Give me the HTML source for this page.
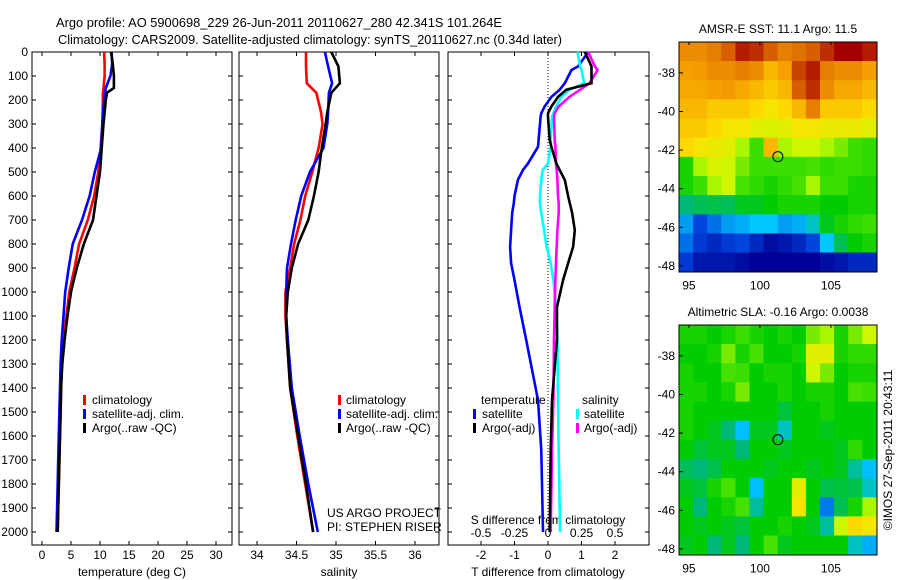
<!DOCTYPE html>
<html><head><meta charset="utf-8"><style>
body{margin:0;background:#fff;}
svg{display:block;font-family:"Liberation Sans",sans-serif;}
</style></head><body>
<svg id="chart" width="900" height="580" viewBox="0 0 900 580" xmlns="http://www.w3.org/2000/svg">
<text x="56" y="27" font-size="13" textLength="446" lengthAdjust="spacingAndGlyphs">Argo profile: AO 5900698_229 26-Jun-2011 20110627_280 42.341S 101.264E</text>
<text x="58" y="44" font-size="13" textLength="504" lengthAdjust="spacingAndGlyphs">Climatology: CARS2009. Satellite-adjusted climatology: synTS_20110627.nc (0.34d later)</text>
<g id="g"></g>
</svg>
<script>
// ---- data ----
const depthT = [0,50,100,150,170,200,300,400,500,600,700,800,900,1000,1100,1200,1300,1400,1500,1600,1700,1800,1900,2000];
const tempClim = [10.7,10.8,10.8,10.6,10.5,10.5,10.4,10.1,9.7,9.0,7.9,6.4,5.6,4.7,4.2,3.7,3.4,3.3,3.2,3.1,3.0,2.9,2.8,2.7];
const tempSat  = [12.0,12.1,11.8,11.0,10.9,10.7,10.4,10.2,9.1,8.2,6.9,5.3,4.6,4.0,3.7,3.4,3.2,3.1,3.0,2.9,2.8,2.7,2.6,2.5];
const tempArgo = [11.9,12.2,12.4,12.4,11.2,11.0,10.6,10.3,10.0,9.4,8.8,7.2,6.0,5.0,4.4,3.9,3.5,3.3,3.2,3.1,3.0,2.9,2.8,2.7];
const depthS = [0,60,130,170,250,300,400,500,600,700,800,900,1000,1100,1200,1400,1600,1800,2000];
const salClim = [34.62,34.62,34.63,34.75,34.81,34.83,34.78,34.70,34.61,34.55,34.47,34.42,34.36,34.36,34.38,34.42,34.51,34.61,34.71];
const salSat  = [34.86,34.90,34.95,34.91,34.90,34.89,34.84,34.67,34.56,34.49,34.43,34.38,34.37,34.37,34.39,34.44,34.54,34.65,34.77];
const salArgo = [34.94,35.03,35.05,34.94,34.89,34.87,34.82,34.78,34.72,34.65,34.52,34.44,34.39,34.37,34.38,34.42,34.52,34.62,34.71];
const depthD = [0,60,75,130,157,187,227,255,270,367,395,465,492,533,600,630,670,742,812,880,950,1062,1200,1450,1660,2000];
const dTsat  = [1.2,0.9,0.7,0.5,0.35,0.1,-0.1,-0.2,-0.22,-0.28,-0.3,-0.6,-0.75,-0.9,-1.0,-1.02,-1.07,-1.1,-1.13,-1.1,-1.0,-0.85,-0.65,-0.3,-0.2,-0.15];
const dTargo = [1.1,1.3,1.3,1.3,0.55,0.3,0.1,0.0,0.0,0.05,0.1,0.25,0.35,0.5,0.6,0.65,0.72,0.8,0.75,0.6,0.45,0.27,0.27,0.12,0.08,0.05];
const dSsat  = [0.22,0.24,0.25,0.27,0.16,0.1,0.06,0.04,0.03,0.02,0.02,0.0,-0.04,-0.05,-0.06,-0.06,-0.05,-0.03,-0.01,0.02,0.04,0.06,0.07,0.075,0.08,0.09];
const dSargo = [0.3,0.35,0.37,0.31,0.24,0.16,0.08,0.05,0.045,0.05,0.055,0.06,0.065,0.07,0.075,0.08,0.08,0.07,0.065,0.06,0.055,0.05,0.045,0.04,0.03,0.02];
const depthTicks = [0,100,200,300,400,500,600,700,800,900,1000,1100,1200,1300,1400,1500,1600,1700,1800,1900,2000];
const tempTicks = [0,5,10,15,20,25,30];
const salTicks = [34,34.5,35,35.5,36];
const dTTicks = [-2,-1,0,1,2];
const dSTicks = [-0.5,-0.25,0,0.25,0.5];
const lonTicks = [95,100,105];
const latTicks = [-38,-40,-42,-44,-46,-48];
const sstGrid = [
[.78,.78,.8,.85,.92,.9,.85,.8,.82,.85,.9,.95,.95,.92],
[.75,.76,.78,.78,.8,.78,.72,.75,.88,.92,.8,.78,.78,.75],
[.74,.74,.75,.76,.74,.72,.7,.72,.85,.9,.78,.74,.74,.72],
[.72,.72,.7,.7,.7,.68,.66,.68,.72,.8,.7,.7,.7,.68],
[.7,.7,.68,.66,.66,.64,.63,.64,.66,.66,.65,.65,.65,.64],
[.68,.66,.65,.64,.6,.55,.72,.6,.62,.62,.6,.58,.55,.54],
[.52,.6,.63,.62,.58,.55,.55,.55,.55,.56,.54,.55,.55,.54],
[.52,.55,.6,.62,.56,.54,.52,.54,.56,.6,.55,.55,.52,.52],
[.42,.44,.45,.44,.48,.48,.5,.52,.52,.52,.5,.5,.52,.52],
[.3,.2,.25,.3,.32,.35,.35,.3,.32,.38,.48,.52,.54,.55],
[.25,.18,.15,.18,.2,.15,.1,.12,.15,.2,.35,.45,.5,.52],
[.18,.12,.12,.12,.1,.08,.08,.08,.08,.08,.1,.12,.15,.15]];
const slaGrid = [
[.52,.52,.50,.52,.55,.52,.50,.52,.50,.58,.60,.52,.58,.62],
[.50,.50,.52,.58,.52,.56,.50,.50,.52,.64,.64,.52,.54,.54],
[.52,.50,.50,.56,.55,.50,.52,.52,.50,.62,.58,.50,.52,.52],
[.52,.52,.50,.52,.58,.50,.50,.52,.50,.52,.52,.50,.56,.55],
[.52,.50,.50,.50,.50,.50,.50,.46,.50,.50,.52,.50,.50,.50],
[.52,.50,.48,.42,.34,.48,.48,.38,.50,.50,.48,.50,.50,.50],
[.50,.46,.48,.48,.42,.50,.50,.48,.50,.50,.50,.48,.54,.50],
[.44,.42,.45,.50,.50,.50,.48,.50,.50,.48,.50,.48,.40,.34],
[.48,.46,.52,.56,.50,.34,.50,.50,.64,.50,.45,.46,.45,.38],
[.50,.42,.50,.52,.56,.40,.50,.50,.66,.50,.26,.45,.52,.60],
[.50,.48,.50,.48,.46,.50,.50,.52,.50,.48,.40,.62,.68,.66],
[.48,.50,.42,.48,.42,.50,.56,.48,.50,.50,.50,.50,.38,.32]];
const floatLon = 101.264, floatLat = -42.341;

// ---- scales ----
const NS="http://www.w3.org/2000/svg";
const G=document.getElementById('g');
function el(tag,attrs,parent){const e=document.createElementNS(NS,tag);for(const k in attrs)e.setAttribute(k,attrs[k]);(parent||G).appendChild(e);return e;}
const Y0=52, Y1=545;
const yD=d=>Y0+0.24*d;
const xT=t=>42+5.8*t;
const xS=s=>257+79*(s-34);
const xDT=t=>548+33.5*t;
const xDS=s=>548+134*s;
const mapX=lon=>679+(lon-94.3)*14.2;
const topLatY=lat=>42+(-36.4-lat)*19.3;
const botLatY=lat=>325+(-36.4-lat)*19.3;

function panel(x0,w,name){
  const r=el('rect',{x:x0,y:Y0,width:w,height:Y1-Y0,fill:'none',stroke:'#000','stroke-width':1});
  
  
  depthTicks.forEach(d=>{
    const t1=el('line',{x1:x0,x2:x0+4,y1:yD(d),y2:yD(d),stroke:'#000'});
    
    
    const t2=el('line',{x1:x0+w,x2:x0+w-4,y1:yD(d),y2:yD(d),stroke:'#000'});
    
    
  });
}
function xticks(vals,f,labelY,name){
  vals.forEach(v=>{
    const x=f(v);
    const a=el('line',{x1:x,x2:x,y1:Y0,y2:Y0+4,stroke:'#000'});
    
    
    const b=el('line',{x1:x,x2:x,y1:Y1,y2:Y1-4,stroke:'#000'});
    
    
    const t=el('text',{x:x,y:labelY,'font-size':12,'text-anchor':'middle'});
    t.textContent=String(v);
    
    
  });
}
function line(xs,ds,fx,color,name){
  let p='';
  for(let i=0;i<xs.length;i++){p+=(i?'L':'M')+fx(xs[i]).toFixed(1)+' '+yD(ds[i]).toFixed(1);}
  const e=el('path',{d:p,fill:'none',stroke:color,'stroke-width':2.6});
  
  
}
function label(x,y,txt,name,size,anchor){
  const t=el('text',{x:x,y:y,'font-size':size||12,'text-anchor':anchor||'start'});
  t.textContent=txt;
  
  
  return t;
}
function marker(x,y,color){
  const m=el('rect',{x:x,y:y-9,width:3,height:10,fill:color});
  
  
}

panel(32,200,'temperature-panel');
panel(239,200,'salinity-panel');
panel(448,201,'difference-panel');
depthTicks.forEach(d=>{
  label(28,yD(d)+4,String(d),'depth-tick-label',12,'end');
});
xticks(tempTicks,xT,559,'temperature-tick-label');
xticks(salTicks,xS,559,'salinity-tick-label');
xticks(dTTicks,xDT,559,'t-difference-tick-label');
dSTicks.forEach(v=>label(xDS(v),537,String(v),'s-difference-tick-label',12,'middle'));
label(132,576,'temperature (deg C)','x-axis-title-temperature',12,'middle');
label(339,576,'salinity','x-axis-title-salinity',12,'middle');
label(548,576,'T difference from climatology','x-axis-title-t-difference',12,'middle');
label(548,524,'S difference from climatology','x-axis-title-s-difference',12,'middle');
const z=el('line',{x1:548,x2:548,y1:Y0,y2:532,stroke:'#000','stroke-dasharray':'1,2'});



line(tempClim,depthT,xT,'#ff0000','temperature-climatology-line');
line(tempSat,depthT,xT,'#0000ff','temperature-satellite-line');
line(tempArgo,depthT,xT,'#000000','temperature-argo-line');
line(salClim,depthS,xS,'#ff0000','salinity-climatology-line');
line(salSat,depthS,xS,'#0000ff','salinity-satellite-line');
line(salArgo,depthS,xS,'#000000','salinity-argo-line');
line(dTsat,depthD,xDT,'#0000ff','t-diff-satellite-line');
line(dSsat,depthD,xDS,'#00ffff','s-diff-satellite-line');
line(dSargo,depthD,xDS,'#ff00ff','s-diff-argo-line');
line(dTargo,depthD,xDT,'#000000','t-diff-argo-line');

[[ '#ff0000','climatology'],['#0000ff','satellite-adj. clim.'],['#000000','Argo(..raw -QC)']].forEach((e,i)=>{
  marker(83,404+i*14,e[0]); label(92,404+i*14,e[1],'legend-entry');
  marker(338,404+i*14,e[0]); label(346,404+i*14,e[1],'legend-entry');
});
label(481,404,'temperature','legend-title-temperature');
marker(473,418,'#0000ff'); label(482,418,'satellite','legend-entry');
marker(473,432,'#000000'); label(482,432,'Argo(-adj)','legend-entry');
label(582,404,'salinity','legend-title-salinity');
marker(576,418,'#00ffff'); label(584,418,'satellite','legend-entry');
marker(576,432,'#ff00ff'); label(584,432,'Argo(-adj)','legend-entry');
label(327,517,'US ARGO PROJECT','project-label');
label(327,531,'PI: STEPHEN RISER','pi-label');

// colormap matched to reference
const cmStops=[[0,0,0,120],[0.08,0,0,150],[0.2,0,70,220],[0.35,0,200,255],[0.42,0,185,120],[0.5,0,205,0],[0.56,70,225,0],[0.61,195,250,0],[0.67,255,225,0],[0.75,245,160,0],[0.85,215,95,0],[0.95,165,0,0],[1,150,0,0]];
function cmap(v){
  v=Math.max(0,Math.min(1,v));
  for(let i=1;i<cmStops.length;i++){
    const a=cmStops[i-1],b=cmStops[i];
    if(v<=b[0]){const f=(v-a[0])/(b[0]-a[0]);
      return 'rgb('+Math.round(a[1]+f*(b[1]-a[1]))+','+Math.round(a[2]+f*(b[2]-a[2]))+','+Math.round(a[3]+f*(b[3]-a[3]))+')';}
  }
  return 'rgb(150,0,0)';
}
function map(grid,latY,name,title,titleY){
  const nr=grid.length,nc=grid[0].length;
  const lonW=(108.2-94.3)/nc, latH=(48.3-36.4)/nr;
  grid.forEach((row,i)=>row.forEach((v,j)=>{
    const x=mapX(94.3+j*lonW), y=latY(-36.4-i*latH);
    const c=el('rect',{x:x.toFixed(1),y:y.toFixed(1),width:(lonW*14.2+0.6).toFixed(1),height:(latH*19.3+0.6).toFixed(1),fill:cmap(v)});
    
    
  }));
  const f=el('rect',{x:679,y:latY(-36.4),width:198,height:230,fill:'none',stroke:'#000'});
  
  
  latTicks.forEach(l=>{
    label(675,latY(l)+4,String(l),name+'-lat-label',12,'end');
    const t=el('line',{x1:679,x2:683,y1:latY(l),y2:latY(l),stroke:'#000'});
    
    
  });
  lonTicks.forEach(l=>{
    label(mapX(l),latY(-48.3)+18,String(l),name+'-lon-label',12,'middle');
    const t=el('line',{x1:mapX(l),x2:mapX(l),y1:latY(-36.4),y2:latY(-36.4)+3,stroke:'#000'});
    
    
  });
  const pt=el('circle',{cx:mapX(floatLon),cy:latY(floatLat),r:5,fill:'none',stroke:'#000'});
  
  
  label(778,titleY,title,name+'-title',12,'middle');
}
map(sstGrid,topLatY,'sst-map','AMSR-E SST: 11.1 Argo: 11.5',33);
map(slaGrid,botLatY,'sla-map','Altimetric SLA: -0.16 Argo: 0.0038',316);
const cr=label(0,0,'©IMOS 27-Sep-2011 20:43:11','copyright-label',12,'middle');
cr.setAttribute('transform','translate(892,450) rotate(-90)');
</script>
</body></html>
